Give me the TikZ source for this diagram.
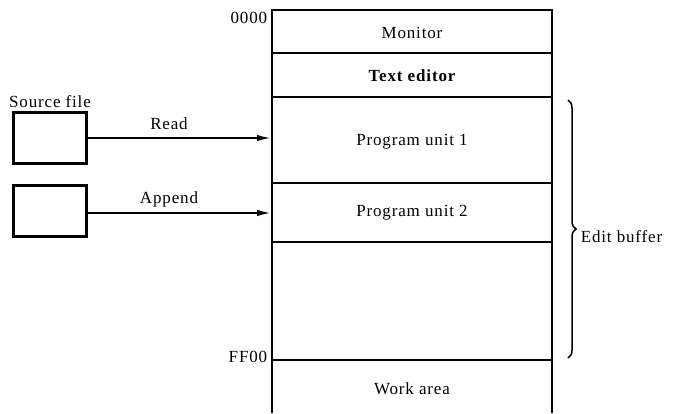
\documentclass[tikz,border=0pt]{standalone}
\usepackage{fontspec}
\setmainfont{Liberation Serif}[LetterSpace=5]
\usetikzlibrary{arrows.meta,decorations.pathreplacing}
\begin{document}
\begin{tikzpicture}[x=1pt,y=-1pt,
  line width=1.6pt,
  lbl/.style={inner sep=0pt,font=\fontsize{17}{19}\selectfont},
  srcbox/.style={draw,line width=2.2pt,minimum width=73pt,minimum height=51pt,inner sep=0pt},
  arr/.style={-{Latex[length=13pt,width=6.5pt]},line width=1.2pt},
  sep/.style={line width=1.3pt}]
\useasboundingbox (0,0) rectangle (675,413);
% memory column
\draw (272,413) -- (272,10) -- (552,10) -- (552,413);
\foreach \yy in {53,97,183,242,360} \draw[sep] (272,\yy) -- (552,\yy);
\coordinate (readend) at (270,138);
\coordinate (appendend) at (270,213);
% labels in column
\node[lbl] (monitor) at (412,33) {Monitor};
\node[lbl,font=\fontsize{17}{19}\selectfont\bfseries] (editor) at (412,76) {Text editor};
\node[lbl] (pu1) at (412,142) {Program unit 1};
\node[lbl] (pu2) at (412,213) {Program unit 2};
\node[lbl] (work) at (412,389) {Work area};
\node[lbl,anchor=east] (a0) at (268,18) {0000};
\node[lbl,anchor=east] (aff) at (268,357) {FF00};
% source boxes
\node[srcbox] (src1) at (50,138) {};
\node[srcbox] (src2) at (50,211) {};
\node[lbl] (srclbl) at (50,102) {Source file};
\draw[arr] (src1.east |- readend) -- (readend);
\draw[arr] (src2.east |- appendend) -- (appendend);
\node[lbl] (read) at (169,124) {Read};
\node[lbl] (append) at (169,199) {Append};
% brace
\draw[decorate,decoration={brace,amplitude=8pt},line width=1.5pt] (568,100) -- (568,358);
\node[lbl,anchor=west] (edit) at (580,237) {Edit buffer};
\end{tikzpicture}
\end{document}
